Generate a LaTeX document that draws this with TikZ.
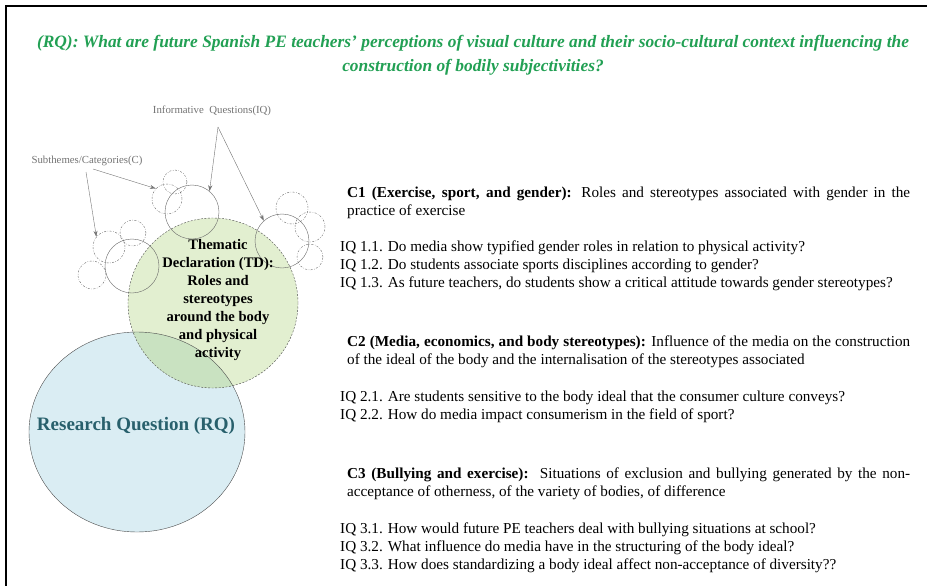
\documentclass[tikz,border=0pt]{standalone}
\usepackage{fontspec}
\setmainfont{Liberation Serif}
\usepackage{tikz}
\usetikzlibrary{positioning, arrows.meta, shapes.geometric}
\hyphenpenalty=10000

\definecolor{titlegreen}{RGB}{34,160,84}
\definecolor{rqblue}{RGB}{218,237,243}
\definecolor{tdgreen}{RGB}{226,239,208}
\definecolor{mixgreen}{RGB}{201,226,193}
\definecolor{rqtext}{RGB}{40,96,108}

\tikzset{
  hint/.style={font=\fontsize{10.8}{12}\selectfont, text=black!55, inner sep=0},
  pointer/.style={draw=black!55, thin, -{Stealth[length=6pt, width=4pt]}},
  subcirc/.style={circle, draw=black!60, thin, dash pattern=on 2pt off 1.5pt on 0.6pt off 1.5pt, inner sep=0},
  iqcirc/.style={circle, draw=black!60, thin, inner sep=0, minimum size=54pt},
  ctext/.style={font=\fontsize{15.2}{18}\selectfont, text width=563pt, align=justify, anchor=north west, inner sep=0},
  iqtext/.style={font=\fontsize{15.2}{18}\selectfont, anchor=west, inner sep=0}
}

\begin{document}
\begin{tikzpicture}[x=1pt, y=-1pt]
    \useasboundingbox (0,0) rectangle (927,586);

    % Frame
    \draw[line width=2pt] (927,6) -- (6,6) -- (6,586);

    % Title
    \node[text=titlegreen, font=\fontsize{17.4}{24}\bfseries\itshape\selectfont, align=center] (title) at (473,55)
      {(RQ): What are future Spanish PE teachers' perceptions of visual culture and their socio-cultural context influencing the\\construction of bodily subjectivities?};

    % Research question and thematic declaration
    \node[ellipse, fill=rqblue, minimum width=216pt, minimum height=200pt] (rq) at (137,432) {};
    \node[circle, fill=tdgreen, minimum size=170pt] (td) at (213,303) {};
    \begin{scope}
      \clip (137,432) ellipse (108 and 100);
      \fill[mixgreen] (213,303) circle (85);
    \end{scope}
    \draw[black!70] (137,432) ellipse (108 and 100);
    \draw[black!70, dashed, dash pattern=on 2pt off 1.5pt] (213,303) circle (85);

    % Subtheme and question circles
    \node[iqcirc] (ctop) at (192,212) {};
    \node[iqcirc] (cleft) at (132,266) {};
    \node[iqcirc] (cright) at (282,241) {};
    \foreach \n/\x/\y/\r in {t1/175/182/12, t2/167/199/15, l1/109/247/16, l2/133/233/13, l3/92/275/14, r1/292/208/16, r2/310/227/15, r3/310/257/13} {
      \node[subcirc, minimum size=2*\r pt] (s\n) at (\x,\y) {};
    }

    % Texts in the circles
    \node[font=\fontsize{14.6}{18}\bfseries\selectfont, align=center, inner sep=0] (tdtext) at (218,300)
      {Thematic\\Declaration (TD):\\Roles and\\stereotypes\\around the body\\and physical\\activity};
    \node[font=\fontsize{19}{22}\bfseries\selectfont, text=rqtext, inner sep=0] (rqtext) at (136,426) {Research Question (RQ)};

    % Pointers
    \node[hint] (iqlabel) at (212,111) {Informative\ \ Questions(IQ)};
    \node[hint] (clabel) at (87,161) {Subthemes/Categories(C)};
    \coordinate (iqfoot) at (218,127);
    \coordinate (cfootA) at (93,169);
    \coordinate (cfootB) at (86,172);
    \draw[pointer] (iqfoot) -- (ctop.50);
    \draw[pointer] (iqfoot) -- (cright.132);
    \draw[pointer] (cfootA) -- (st2.137);
    \draw[pointer] (cfootB) -- (sl1.141);

    % Categories
    \node[ctext] (c1) at (347,187) {\textbf{C1 (Exercise, sport, and gender):} Roles and stereotypes associated with gender in the practice of exercise};
    \node[ctext] (c2) at (347,336) {\textbf{C2 (Media, economics, and body stereotypes):} Influence of the media on the construction of the ideal of the body and the internalisation of the stereotypes associated};
    \node[ctext] (c3) at (347,468) {\textbf{C3 (Bullying and exercise):}\ \ Situations of exclusion and bullying generated by the non-acceptance of otherness, of the variety of bodies, of difference};

    % Informative questions
    \foreach \n/\y/\t in {
      11/248/{IQ 1.1. Do media show typified gender roles in relation to physical activity?},
      12/266/{IQ 1.2. Do students associate sports disciplines according to gender?},
      13/284/{IQ 1.3. As future teachers, do students show a critical attitude towards gender stereotypes?},
      21/398/{IQ 2.1. Are students sensitive to the body ideal that the consumer culture conveys?},
      22/416/{IQ 2.2. How do media impact consumerism in the field of sport?},
      31/530/{IQ 3.1. How would future PE teachers deal with bullying situations at school?},
      32/548/{IQ 3.2. What influence do media have in the structuring of the body ideal?},
      33/566/{IQ 3.3. How does standardizing a body ideal affect non-acceptance of diversity??}} {
      \node[iqtext] (iq\n) at (340,\y) {\t};
    }
\end{tikzpicture}
\end{document}
